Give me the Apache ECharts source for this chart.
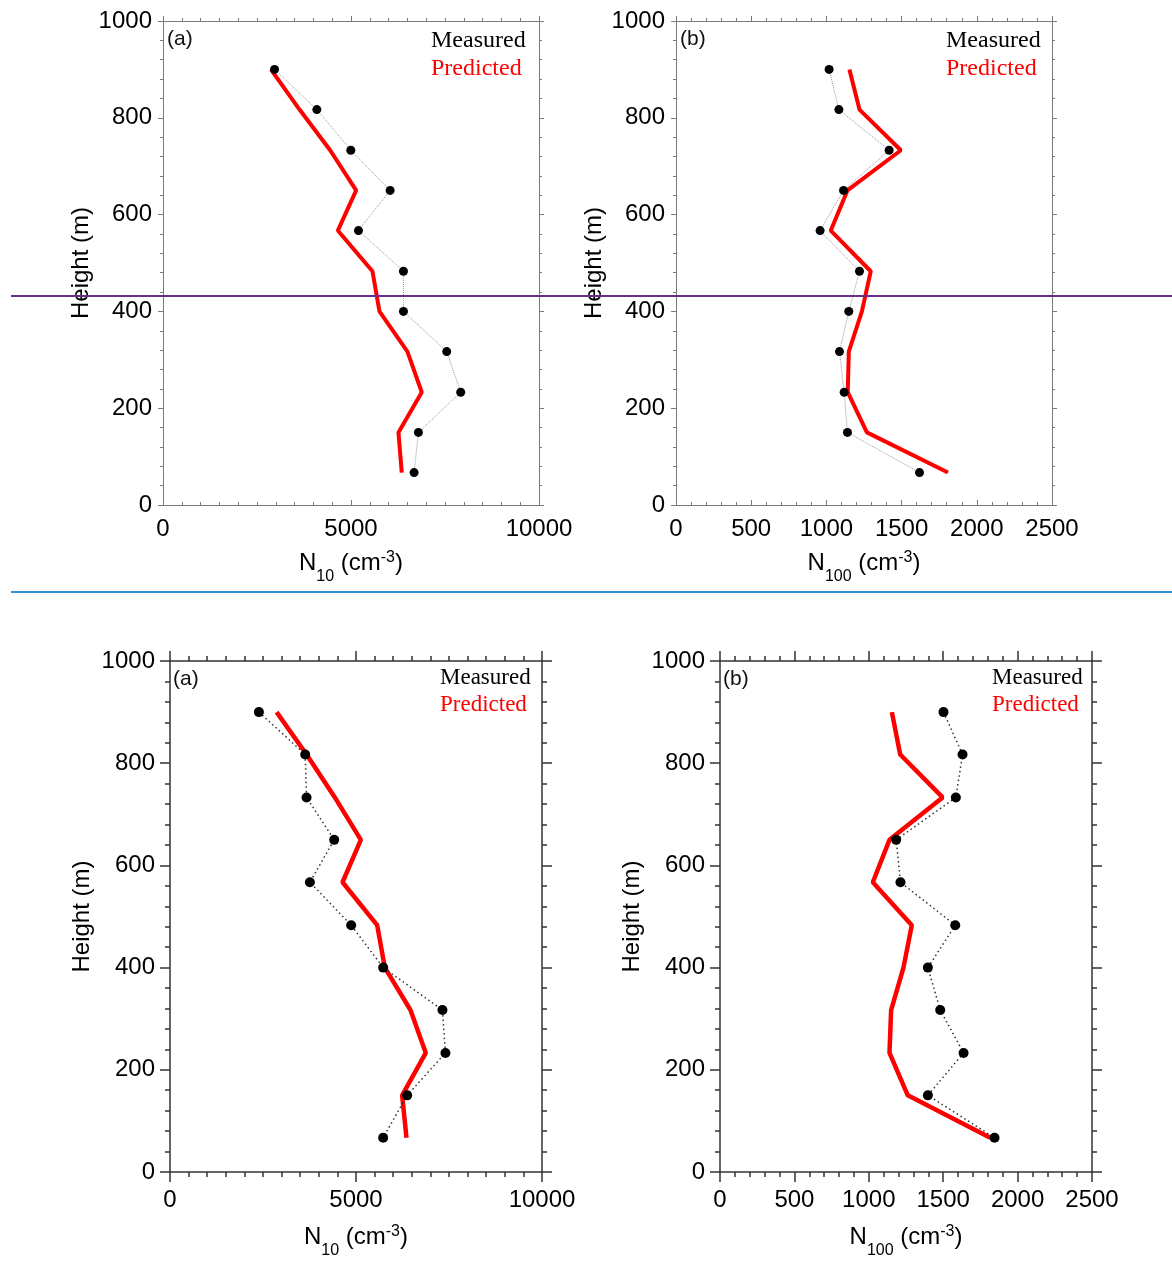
<!DOCTYPE html>
<html><head><meta charset="utf-8">
<script src="https://cdn.jsdelivr.net/npm/echarts@6/dist/echarts.min.js"></script>
<style>html,body{margin:0;padding:0;background:#fff}#c{width:1172px;height:1264px}</style>
</head><body><div id="c"></div>
<script>
// ---------- data ----------
const heights = [900, 817, 733, 650, 567, 483, 400, 317, 233, 150, 67];
const n10Ticks = [0, 5000, 10000];
const n100Ticks = [0, 500, 1000, 1500, 2000, 2500];
const heightTicks = [0, 200, 400, 600, 800, 1000];
const legendNames = ['Measured', 'Predicted'];
const panelLabels = ['(a)', '(b)', '(a)', '(b)'];
const xSubscripts = ['10', '100', '10', '100'];

const topN10Measured   = [2967, 4092, 4995, 6040, 5199, 6395, 6395, 7546, 7918, 6793, 6678];
const topN10Predicted  = [2870, 3631, 4446, 5137, 4650, 5571, 5757, 6501, 6882, 6262, 6350];
const topN100Measured  = [1018, 1083, 1417, 1114, 958, 1220, 1149, 1087, 1118, 1140, 1619];
const topN100Predicted = [1153, 1220, 1495, 1140, 1029, 1295, 1236, 1149, 1142, 1269, 1808];
const botN10Measured   = [2390, 3635, 3671, 4414, 3760, 4870, 5730, 7324, 7404, 6375, 5730];
const botN10Predicted  = [2865, 3671, 4432, 5130, 4638, 5569, 5775, 6464, 6876, 6240, 6357];
const botN100Measured  = [1502, 1630, 1585, 1184, 1213, 1581, 1397, 1480, 1637, 1397, 1845];
const botN100Predicted = [1155, 1211, 1496, 1139, 1027, 1289, 1233, 1150, 1139, 1262, 1816];

// ---------- styles ----------
const STY = {
  top: { axisColor: '#7a7a7a', axisWidth: 1, majorLen: 5, minorLen: 3, bottomInside: true,
         yMargin: 11, xMargin: 12, yNameGap: 70, xNameGap: 36, redWidth: 4,
         mLine: { color: '#9a9a9a', width: 1, type: [1, 1] }, mSize: 9, legendFont: 24, legendLH: 28 },
  bot: { axisColor: '#333', axisWidth: 1.5, majorLen: 10, minorLen: 5, bottomInside: false,
         yMargin: 15, xMargin: 16, yNameGap: 76, xNameGap: 43, redWidth: 4.5,
         mLine: { color: '#333', width: 1.5, type: [1.5, 3] }, mSize: 10, legendFont: 23, legendLH: 27 }
};

const panels = [
  { s: STY.top, grid: { left: 163, top: 21, width: 376, height: 484 }, xTicks: n10Ticks, xMinor: 10,
    m: topN10Measured, p: topN10Predicted, legend: { left: 426, top: 27 }, label: { left: 167, top: 29 } },
  { s: STY.top, grid: { left: 676, top: 21, width: 376, height: 484 }, xTicks: n100Ticks, xMinor: 5,
    m: topN100Measured, p: topN100Predicted, legend: { left: 941, top: 27 }, label: { left: 680, top: 29 } },
  { s: STY.bot, grid: { left: 170, top: 661, width: 372, height: 511 }, xTicks: n10Ticks, xMinor: 10,
    m: botN10Measured, p: botN10Predicted, legend: { left: 435, top: 664 }, label: { left: 173, top: 669 } },
  { s: STY.bot, grid: { left: 720, top: 661, width: 372, height: 511 }, xTicks: n100Ticks, xMinor: 5,
    m: botN100Measured, p: botN100Predicted, legend: { left: 987, top: 664 }, label: { left: 723, top: 669 } }
];

const FONT = 'Liberation Sans, Arial, sans-serif';
const SERIF = 'Liberation Serif, Times New Roman, serif';

function axis(s, ticks, minorSplit, gridIndex, position, inside, showLabel, margin) {
  const ls = { color: s.axisColor, width: s.axisWidth };
  return {
    type: 'value', gridIndex, position,
    min: ticks[0], max: ticks[ticks.length - 1], interval: ticks[1] - ticks[0],
    axisLine: { show: true, onZero: false, lineStyle: ls },
    axisTick: { show: true, inside, length: s.majorLen, lineStyle: ls },
    minorTick: { show: true, splitNumber: minorSplit, length: s.minorLen, lineStyle: ls },
    splitLine: { show: false }, minorSplitLine: { show: false },
    axisLabel: { show: showLabel, margin, color: '#000', fontFamily: FONT, fontSize: 24,
                 formatter: v => String(v) }
  };
}

const grid = [], xAxis = [], yAxis = [], series = [], legend = [], title = [];
panels.forEach((pn, i) => {
  const s = pn.s;
  grid.push(Object.assign({ outerBoundsMode: 'none', containLabel: false }, pn.grid));
  const xb = axis(s, pn.xTicks, pn.xMinor, i, 'bottom', s.bottomInside, true, s.xMargin);
  xb.name = '{n|N}{sub|' + xSubscripts[i] + '}{n| (cm}{sup|-3}{n|)}';
  xb.nameLocation = 'middle';
  xb.nameGap = s.xNameGap;
  xb.nameMoveOverlap = false;
  xb.nameTextStyle = {
    color: '#000', fontFamily: FONT,
    rich: {
      n: { fontSize: 24, fontFamily: FONT, color: '#000', lineHeight: 44, height: 44, verticalAlign: 'middle' },
      sub: { fontSize: 16, fontFamily: FONT, color: '#000', lineHeight: 16, height: 16, verticalAlign: 'bottom' },
      sup: { fontSize: 16, fontFamily: FONT, color: '#000', lineHeight: 33, height: 33, verticalAlign: 'top' }
    }
  };
  xAxis.push(xb);
  xAxis.push(axis(s, pn.xTicks, pn.xMinor, i, 'top', false, false, 8));
  const yl = axis(s, heightTicks, 5, i, 'left', false, true, s.yMargin);
  yl.name = 'Height (m)';
  yl.nameLocation = 'middle';
  yl.nameGap = s.yNameGap;
  yl.nameMoveOverlap = false;
  yl.nameTextStyle = { color: '#000', fontFamily: FONT, fontSize: 24 };
  yAxis.push(yl);
  yAxis.push(axis(s, heightTicks, 5, i, 'right', false, false, 8));

  series.push({
    name: legendNames[1], type: 'line', xAxisIndex: 2 * i, yAxisIndex: 2 * i,
    data: pn.p.map((v, k) => [v, heights[k]]),
    symbol: 'none', lineStyle: { color: '#ff0000', width: s.redWidth }, itemStyle: { color: '#ff0000' },
    silent: true, animation: false, z: 2
  });
  series.push({
    name: legendNames[0], type: 'line', xAxisIndex: 2 * i, yAxisIndex: 2 * i,
    data: pn.m.map((v, k) => [v, heights[k]]),
    symbol: 'circle', symbolSize: s.mSize, showSymbol: true,
    itemStyle: { color: '#000', borderWidth: 0 }, lineStyle: s.mLine,
    silent: true, animation: false, z: 3
  });

  legend.push({
    orient: 'vertical', left: pn.legend.left, top: pn.legend.top, padding: 0,
    itemGap: 0, itemWidth: 0, itemHeight: s.legendLH, icon: 'none', selectedMode: false,
    textStyle: { fontFamily: SERIF, fontSize: s.legendFont, lineHeight: s.legendLH },
    data: [
      { name: legendNames[0], icon: 'none', textStyle: { color: '#000' } },
      { name: legendNames[1], icon: 'none', textStyle: { color: '#ff0000' } }
    ]
  });
  title.push({
    text: panelLabels[i], left: pn.label.left, top: pn.label.top, padding: 0,
    textStyle: { fontFamily: FONT, fontSize: 21, fontWeight: 'normal', color: '#111' }
  });
});

const chart = echarts.init(document.getElementById('c'), null, { renderer: 'canvas' });
chart.setOption({
  animation: false,
  backgroundColor: '#fff',
  grid, xAxis, yAxis, series, legend, title,
  graphic: [
    { type: 'line', z: 100, shape: { x1: 11, y1: 296, x2: 1172, y2: 296 }, style: { stroke: '#6b2d8b', lineWidth: 2 } },
    { type: 'line', z: 100, shape: { x1: 11, y1: 592, x2: 1172, y2: 592 }, style: { stroke: '#3296d6', lineWidth: 2 } }
  ]
});
</script></body></html>
